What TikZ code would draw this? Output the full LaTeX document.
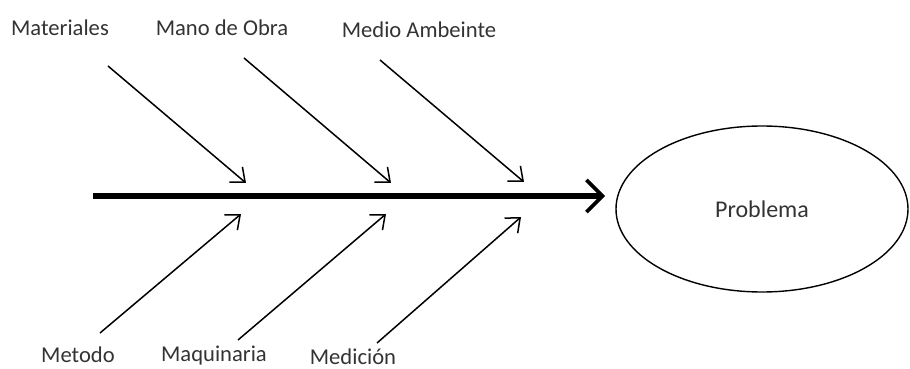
\documentclass[tikz,border=0pt]{standalone}
\usepackage{fontspec}
\setmainfont{Carlito}
\usetikzlibrary{arrows.meta,shapes.geometric}

\begin{document}
\begin{tikzpicture}[
    x=0.5pt, y=-0.5pt,
    cause/.style={font=\fontsize{11.3}{13}\selectfont, text=black!80},
    effect/.style={draw, ellipse, line width=0.7pt, minimum width=146pt, minimum height=83pt, inner sep=0pt, font=\fontsize{12}{14}\selectfont, text=black!80},
    bone/.style={-{Straight Barb[length=6pt,width=10pt]}, line width=0.75pt},
    spine/.style={-{Straight Barb[length=8pt,width=16pt,line width=1.8pt]}, line width=2.6pt}
]

% Frame
\useasboundingbox (0,0) rectangle (910,369);

% Effect
\node[effect] (prob) at (762,209) {Problema};
\coordinate (tail) at (93,196);
\coordinate (head) at (605,196);

% Spine
\draw[spine] (tail) -- (head);

% Cause labels
\node[cause] (mat) at (60,28) {Materiales};
\node[cause] (mano) at (222,28) {Mano de Obra};
\node[cause] (medio) at (419,30) {Medio Ambeinte};
\node[cause] (met) at (78,355) {Metodo};
\node[cause] (maq) at (214,356) {Maquinaria};
\node[cause] (medi) at (353,357) {Medición};

% Bones, top
\coordinate (mat-s) at (108,66);   \coordinate (mat-e) at (246,183);
\coordinate (mano-s) at (244,58);  \coordinate (mano-e) at (391,183);
\coordinate (medio-s) at (380,60); \coordinate (medio-e) at (524,182);
\draw[bone] (mat-s) -- (mat-e);
\draw[bone] (mano-s) -- (mano-e);
\draw[bone] (medio-s) -- (medio-e);

% Bones, bottom
\coordinate (met-s) at (100,333);  \coordinate (met-e) at (241,214);
\coordinate (maq-s) at (238,340);  \coordinate (maq-e) at (386,214);
\coordinate (medi-s) at (377,343); \coordinate (medi-e) at (521,217);
\draw[bone] (met-s) -- (met-e);
\draw[bone] (maq-s) -- (maq-e);
\draw[bone] (medi-s) -- (medi-e);

\end{tikzpicture}
\end{document}
